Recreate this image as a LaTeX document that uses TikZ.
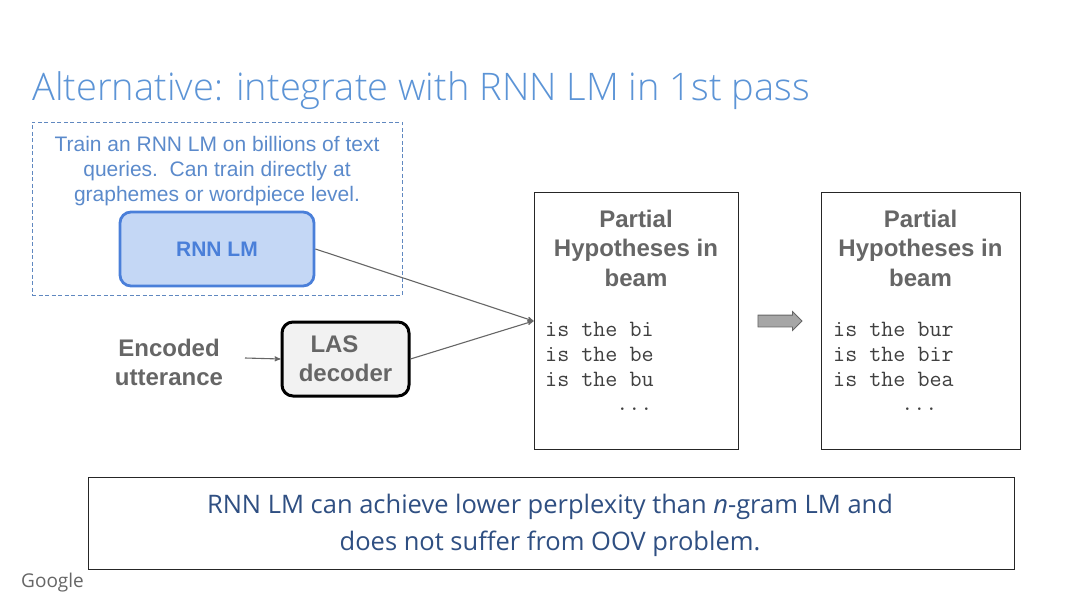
\documentclass[tikz,border=0pt]{standalone}
\usepackage{fontspec}
\setmainfont{Liberation Sans}
\newfontfamily\titlefont[UprightFont=* Light]{Open Sans}
\newfontfamily\notefont{Open Sans}
\usetikzlibrary{shapes.arrows}
\usetikzlibrary{positioning}
\usetikzlibrary{arrows}
\definecolor{titleblue}{HTML}{5C94D6}
\definecolor{trainblue}{HTML}{5B8ACB}
\definecolor{lmblue}{HTML}{4A7FD9}
\definecolor{lmfill}{HTML}{C4D7F5}
\definecolor{notenavy}{HTML}{2F4F82}
\definecolor{headgray}{HTML}{666666}

\begin{document}
\begin{tikzpicture}[x=1pt,y=-1pt,>=stealth',
	beam box/.style={draw=black!85,line width=1pt,fill=white,minimum height=256pt},
	beam head/.style={font=\fontsize{24}{29.5}\selectfont\bfseries,text=headgray,align=center,inner sep=0pt},
	beam text/.style={font=\fontsize{23.4}{25}\selectfont\ttfamily,text=black!75,align=left,inner sep=0pt},
	link/.style={->,draw=headgray,line width=1.1pt}]
	
	\useasboundingbox (0,0) rectangle (1080,607);
	
	\node[anchor=west,inner sep=0pt,font=\titlefont\fontsize{38}{38}\selectfont,text=titleblue] (title) at (32,91) {Alternative: integrate with RNN LM in 1st pass};
	
	\node[draw=trainblue!85!gray,dash pattern=on 4pt off 2.5pt,line width=0.9pt,minimum width=370pt,minimum height=173pt] (lm area) at (217,208.5) {};
	\node[align=center,inner sep=0pt,text=trainblue,font=\fontsize{21}{25}\selectfont] (train) at (217,171) {Train an RNN LM on billions of text\\queries.\ \ Can train directly at\\graphemes or wordpiece level.};
	\node[draw=lmblue,fill=lmfill,rounded corners=11pt,line width=2.8pt,minimum width=194pt,minimum height=74pt,text=lmblue,font=\fontsize{21}{24}\selectfont\bfseries] (rnn) at (217,249) {RNN LM};
	
	\node[draw=black,fill=black!5,rounded corners=11pt,line width=3pt,minimum width=127pt,minimum height=74pt,align=center,inner sep=0pt,text=headgray,font=\fontsize{24}{29}\selectfont\bfseries] (las) at (345.5,359) {LAS\hspace*{22pt}\\decoder};
	\node[align=center,inner sep=0pt,text=headgray,font=\fontsize{24}{29}\selectfont\bfseries] (encoded) at (169,362) {Encoded\\utterance};
	\coordinate (input) at (245,358);
	
	\node[beam box,minimum width=204pt] (beam a) at (636,321) {};
	\node[beam box,minimum width=199pt] (beam b) at (920.5,321) {};
	\node[beam head,below=17pt of beam a.north] (head a) {Partial\\Hypotheses in\\beam};
	\node[beam head,below=17pt of beam b.north] (head b) {Partial\\Hypotheses in\\beam};
	\node[beam text,anchor=north west] (hyp a) at (545,322.5) {is the bi\\is the be\\is the bu};
	\node[beam text,anchor=north west] (hyp b) at (833,322.5) {is the bur\\is the bir\\is the bea};
	\node[beam text,below=20pt of hyp a.south,xshift=35pt] (dots a) {...};
	\node[beam text,below=20pt of hyp b.south,xshift=26pt] (dots b) {...};
	\coordinate (meet) at (beam a.west |- 0,321);
	
	\node[single arrow,draw=black!60,fill=black!35,line width=0.8pt,inner xsep=0pt,inner ysep=5.5pt,single arrow head extend=3.5pt,single arrow head indent=0pt,minimum height=44pt] (step arrow) at (777,321) {};
	
	\node[draw=black!85,line width=1pt,fill=white,minimum width=926pt,minimum height=92pt] (note) at (551,523) {};
	\node[align=center,inner sep=0pt,text=notenavy,font=\notefont\fontsize{25.5}{37}\selectfont] (note text) at (550,525) {RNN LM can achieve lower perplexity than \textit{n}-gram LM and\\does not suffer from OOV problem.};
	\node[anchor=west,inner sep=0pt,text=headgray,font=\notefont\fontsize{19}{19}\selectfont] (google) at (21,583) {Google};
	
	\draw[link] (rnn.east) -- (meet);
	\draw[link] (las.east) -- (meet);
	\draw[link] (input) -- (las.west);
	\end{tikzpicture}
\end{document}
